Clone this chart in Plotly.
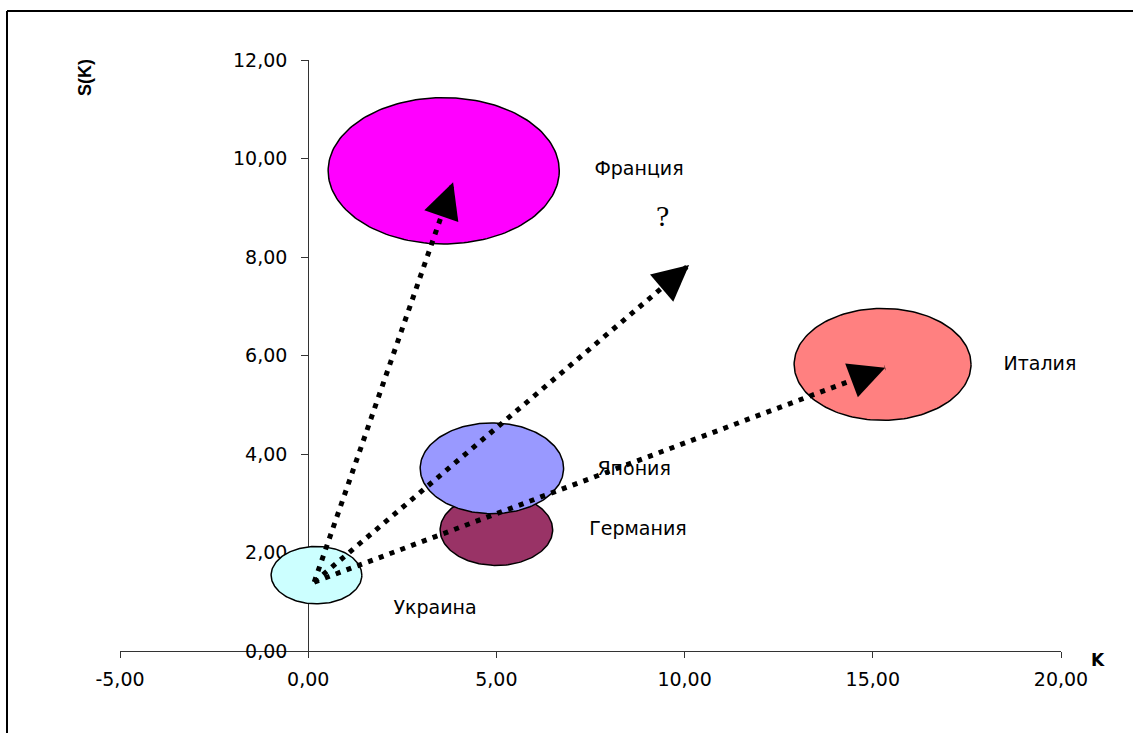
import numpy as np
import plotly.graph_objects as go

# ---------------- data ----------------
countries = ["Франция", "Италия", "Япония", "Германия", "Украина"]
bubble_k = [3.60, 15.26, 4.88, 5.00, 0.22]      # K (x)
bubble_s = [9.75, 5.82, 3.71, 2.46, 1.54]       # S(K) (y)
bubble_size = [6.14, 4.70, 3.81, 2.99, 2.41]    # bubble diameter (K units)
bubble_colors = ["#FF00FF", "#FF8080", "#9999FF", "#993366", "#CCFFFF"]

label_k = [8.79, 19.44, 8.66, 8.76, 3.37]
label_s = [9.77, 5.81, 3.68, 2.46, 0.85]

arrow_start_k = [0.16, 0.16, 0.16]
arrow_start_s = [1.40, 1.40, 1.40]
arrow_end_k = [3.85, 10.12, 15.33]
arrow_end_s = [9.52, 7.84, 5.75]

question_text = "?"
question_k, question_s = 9.40, 8.85

x_ticks = [-5, 0, 5, 10, 15, 20]
y_ticks = [0, 2, 4, 6, 8, 10, 12]

# ---------------- style ----------------
W, H = 1133, 733
ML, MR, MT, MB = 120, 72, 60, 82
X_RANGE = [-5, 20]
Y_RANGE = [0, 12]
px_per_x = (W - ML - MR) / (X_RANGE[1] - X_RANGE[0])
px_per_y = (H - MT - MB) / (Y_RANGE[1] - Y_RANGE[0])
ELLIPSE_ASPECT = 1.58  # width / height of the (stretched) bubbles in pixels
TICK_FONT = dict(family="DejaVu Sans", size=19, color="#000000")


def fmt(v):
    return f"{v:.2f}".replace(".", ",")


fig = go.Figure()

# bubbles (drawn as ellipses), in original overlapping order
t = np.linspace(0, 2 * np.pi, 181)
for i in [0, 1, 3, 2, 4]:
    rx = bubble_size[i] / 2
    ry = rx * px_per_x / ELLIPSE_ASPECT / px_per_y
    fig.add_trace(go.Scatter(
        x=bubble_k[i] + rx * np.cos(t),
        y=bubble_s[i] + ry * np.sin(t),
        mode="lines", fill="toself", fillcolor=bubble_colors[i],
        line=dict(color="#000000", width=1.5),
        hoverinfo="skip", showlegend=False,
    ))

# labels
fig.add_trace(go.Scatter(
    x=label_k, y=label_s, text=countries, mode="text",
    textfont=dict(family="DejaVu Sans", size=19, color="#000000"),
    textposition="middle center", hoverinfo="skip", showlegend=False,
    cliponaxis=False,
))

# dotted arrow shafts
for sk, ss, ek, es in zip(arrow_start_k, arrow_start_s, arrow_end_k, arrow_end_s):
    fig.add_trace(go.Scatter(
        x=[sk, ek], y=[ss, es], mode="lines",
        line=dict(color="#000000", width=5, dash="5px,6.5px"),
        hoverinfo="skip", showlegend=False,
    ))

annotations = []
# arrowheads
for sk, ss, ek, es in zip(arrow_start_k, arrow_start_s, arrow_end_k, arrow_end_s):
    annotations.append(dict(
        x=ek, y=es, xref="x", yref="y",
        ax=ek - 0.05 * (ek - sk), ay=es - 0.05 * (es - ss), axref="x", ayref="y",
        text="", showarrow=True, arrowhead=2, arrowsize=3.6, arrowwidth=2,
        arrowcolor="#000000", standoff=0,
    ))

annotations.append(dict(
    x=question_k, y=question_s, xref="x", yref="y", text=question_text,
    showarrow=False, font=dict(family="Liberation Serif", size=30, color="#000000"),
))
annotations.append(dict(
    x=(85 - ML) / (W - ML - MR), y=(H - MB - 78) / (H - MT - MB),
    xref="paper", yref="paper", xanchor="center", yanchor="middle",
    text="<b>S(K)</b>", textangle=-90,
    showarrow=False, font=dict(family="Liberation Sans", size=18, color="#000000"),
))
annotations.append(dict(
    x=(1098 - ML) / (W - ML - MR), y=(H - MB - 660) / (H - MT - MB),
    xref="paper", yref="paper", xanchor="center", yanchor="middle",
    text="<b>K</b>",
    showarrow=False, font=dict(family="DejaVu Sans", size=17, color="#000000"),
))

# page frame lines (left and top)
pw, ph = W - ML - MR, H - MT - MB
shapes = [
    dict(type="line", xref="paper", yref="paper",
         x0=(7 - ML) / pw, x1=(7 - ML) / pw, y0=(H - MB - 11) / ph, y1=(H - MB - H - 5) / ph,
         line=dict(color="#000000", width=2)),
    dict(type="line", xref="paper", yref="paper",
         x0=(7 - ML) / pw, x1=(W + 5 - ML) / pw, y0=(H - MB - 11) / ph, y1=(H - MB - 11) / ph,
         line=dict(color="#000000", width=2)),
]

fig.update_layout(
    width=W, height=H, autosize=False,
    margin=dict(l=ML, r=MR, t=MT, b=MB),
    paper_bgcolor="white", plot_bgcolor="white",
    showlegend=False, hovermode=False,
    annotations=annotations, shapes=shapes,
    xaxis=dict(
        range=X_RANGE, tickvals=x_ticks, ticktext=[fmt(v) for v in x_ticks],
        showgrid=False, zeroline=False, showline=True, linecolor="#333333", linewidth=1,
        ticks="outside", ticklen=6, tickcolor="#333333", ticklabelstandoff=5,
        tickfont=TICK_FONT, layer="below traces", fixedrange=True,
    ),
    yaxis=dict(
        range=Y_RANGE, tickvals=y_ticks, ticktext=[fmt(v) for v in y_ticks],
        anchor="free", position=(0 - X_RANGE[0]) / (X_RANGE[1] - X_RANGE[0]),
        showgrid=False, zeroline=False, showline=True, linecolor="#333333", linewidth=1,
        ticks="outside", ticklen=7, tickcolor="#333333", ticklabelstandoff=10,
        tickfont=TICK_FONT, layer="below traces", fixedrange=True,
    ),
)

fig.write_html("out.html", config={"displayModeBar": False},
               post_script="document.body.style.margin='0';")
